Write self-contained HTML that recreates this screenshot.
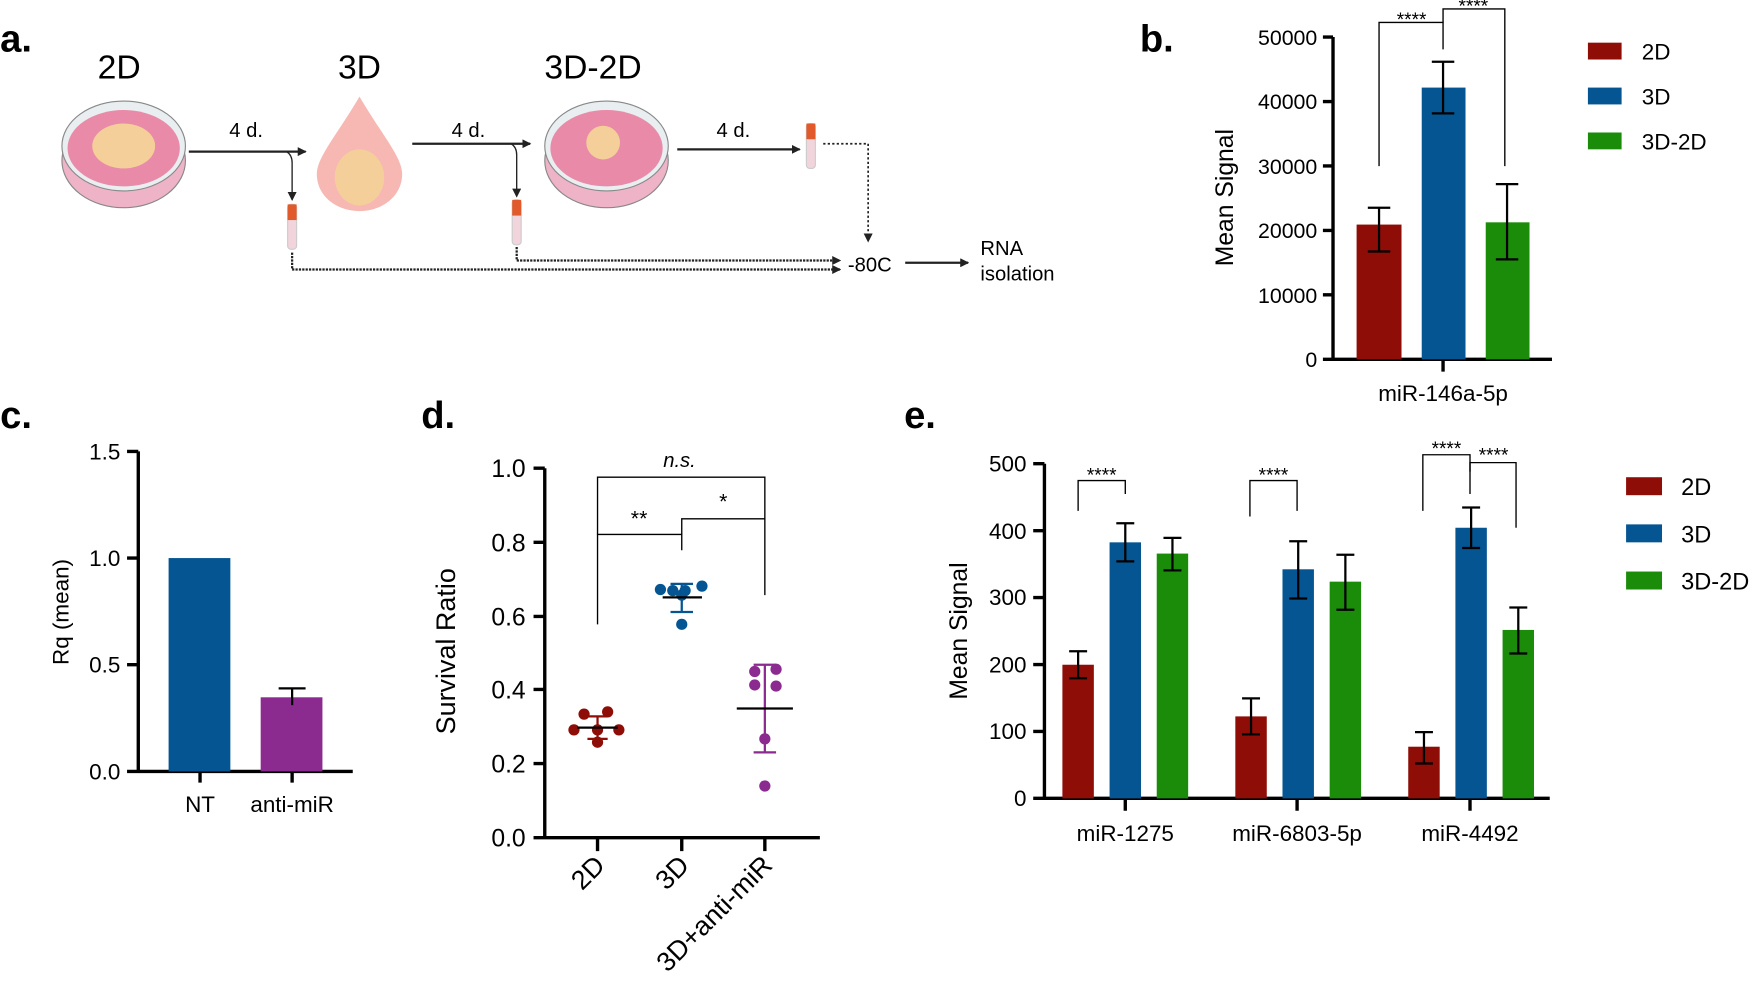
<!DOCTYPE html>
<html><head><meta charset="utf-8"><style>
html,body{margin:0;padding:0;background:#fff;}
svg{display:block;font-family:"Liberation Sans",sans-serif;}
</style></head><body>
<svg width="1761" height="987" viewBox="0 0 1568 879" xmlns="http://www.w3.org/2000/svg">
<defs>
<marker id="ah" markerWidth="8" markerHeight="8" refX="7" refY="4" orient="auto" markerUnits="userSpaceOnUse"><path d="M0,0 L8,4 L0,8 z" fill="#222"/></marker>
</defs>
<!-- Panel a -->
<text x="0" y="46" font-size="34" font-weight="bold">a.</text>
<g font-size="30" text-anchor="middle">
<text x="106" y="70">2D</text><text x="320" y="70">3D</text><text x="528" y="70">3D-2D</text></g>
<g>
<ellipse cx="110" cy="143" rx="55" ry="42" fill="#eeb3c6" stroke="#888"/>
<ellipse cx="110" cy="130" rx="55" ry="40" fill="#e9eef0" stroke="#888"/>
<ellipse cx="110" cy="132" rx="50" ry="34" fill="#e88aa8"/>
<ellipse cx="110" cy="130" rx="28" ry="20" fill="#f5cf9a"/>
<path d="M320,86 C340,120 358,140 358,155 C358,175 340,188 320,188 C300,188 282,175 282,155 C282,140 300,120 320,86 z" fill="#f7b8b3"/>
<ellipse cx="320" cy="158" rx="22" ry="25" fill="#f5cf9a"/>
<ellipse cx="540" cy="143" rx="55" ry="42" fill="#eeb3c6" stroke="#888"/>
<ellipse cx="540" cy="130" rx="55" ry="40" fill="#e9eef0" stroke="#888"/>
<ellipse cx="540" cy="132" rx="50" ry="34" fill="#e88aa8"/>
<ellipse cx="537" cy="127" rx="15" ry="15" fill="#f5cf9a"/>
</g>
<g stroke="#222" stroke-width="2" fill="none">
<line x1="168" y1="135" x2="272" y2="135" marker-end="url(#ah)"/>
<path d="M255,135 Q260,138 260,145 L260,178" stroke-width="1.2" marker-end="url(#ah)"/>
<line x1="367" y1="128" x2="472" y2="128" marker-end="url(#ah)"/>
<path d="M455,128 Q460,131 460,138 L460,175" stroke-width="1.2" marker-end="url(#ah)"/>
<line x1="603" y1="133" x2="712" y2="133" marker-end="url(#ah)"/>
<line x1="806" y1="234" x2="862" y2="234" marker-end="url(#ah)"/>
<path d="M733,128 L773,128 L773,215" stroke-dasharray="2,2" stroke-width="1.5" marker-end="url(#ah)"/>
<path d="M260,225 L260,240 L748,240" stroke-dasharray="2,1" stroke-width="2" marker-end="url(#ah)"/>
<path d="M460,220 L460,232 L748,232" stroke-dasharray="2,1" stroke-width="2" marker-end="url(#ah)"/>
</g>
<g>
<rect x="256" y="182" width="8" height="40" rx="3" fill="#f2d4dc" stroke="#ccc"/><rect x="256" y="182" width="8" height="14" fill="#e05a2b"/>
<rect x="456" y="178" width="8" height="40" rx="3" fill="#f2d4dc" stroke="#ccc"/><rect x="456" y="178" width="8" height="14" fill="#e05a2b"/>
<rect x="718" y="110" width="8" height="40" rx="3" fill="#f2d4dc" stroke="#ccc"/><rect x="718" y="110" width="8" height="14" fill="#e05a2b"/>
</g>
<g font-size="18"><text x="204" y="122">4 d.</text><text x="402" y="122">4 d.</text><text x="638" y="122">4 d.</text>
<text x="755" y="242">-80C</text><text x="873" y="227">RNA</text><text x="873" y="250">isolation</text></g>

<!-- Panel b -->
<text x="1015" y="46" font-size="34" font-weight="bold">b.</text>
<g stroke="#000" stroke-width="3" fill="none"><path d="M1187,33 L1187,320 M1178,320 L1382,320 M1285,320 L1285,331"/>
<path d="M1178,33 H1187 M1178,90.4 H1187 M1178,147.8 H1187 M1178,205.2 H1187 M1178,262.6 H1187"/></g>
<g font-size="19" text-anchor="end"><text x="1173" y="40">50000</text><text x="1173" y="97">40000</text><text x="1173" y="155">30000</text><text x="1173" y="212">20000</text><text x="1173" y="270">10000</text><text x="1173" y="327">0</text></g>
<text transform="translate(1098,176) rotate(-90)" font-size="22" text-anchor="middle">Mean Signal</text>
<text x="1285" y="357" font-size="20" text-anchor="middle">miR-146a-5p</text>
<rect x="1208" y="200" width="40" height="120" fill="#8f0d07"/>
<rect x="1266" y="78" width="39" height="242" fill="#045592"/>
<rect x="1323" y="198" width="39" height="122" fill="#1b8c0a"/>
<g stroke="#000" stroke-width="2" fill="none">
<path d="M1228,185 V224 M1218,185 H1238 M1218,224 H1238"/>
<path d="M1285,55 V101 M1275,55 H1295 M1275,101 H1295"/>
<path d="M1342,164 V231 M1332,164 H1352 M1332,231 H1352"/>
</g>
<g stroke="#000" stroke-width="1.2" fill="none"><path d="M1228,148 V20 H1285 V44"/><path d="M1285,20 V8 H1340 V148"/></g>
<g font-size="17" text-anchor="middle"><text x="1257" y="23">****</text><text x="1312" y="11">****</text></g>
<rect x="1414" y="38" width="30" height="15" fill="#8f0d07"/><rect x="1414" y="78" width="30" height="15" fill="#045592"/><rect x="1414" y="118" width="30" height="15" fill="#1b8c0a"/>
<g font-size="20"><text x="1462" y="53">2D</text><text x="1462" y="93">3D</text><text x="1462" y="133">3D-2D</text></g>

<!-- Panel c -->
<text x="0" y="381" font-size="34" font-weight="bold">c.</text>
<g stroke="#000" stroke-width="3" fill="none"><path d="M123,402 V687 M113,687 H314 M178,687 V697 M260,687 V697 M113,402 H123 M113,497 H123 M113,592 H123"/></g>
<g font-size="20" text-anchor="end"><text x="107" y="409">1.5</text><text x="107" y="504">1.0</text><text x="107" y="599">0.5</text><text x="107" y="694">0.0</text></g>
<text transform="translate(61,545) rotate(-90)" font-size="20" text-anchor="middle">Rq (mean)</text>
<rect x="150" y="497" width="55" height="190" fill="#045592"/>
<rect x="232" y="621" width="55" height="66" fill="#8b2a8f"/>
<path d="M260,613 V628 M248,613 H272" stroke="#000" stroke-width="2"/>
<g font-size="20" text-anchor="middle"><text x="178" y="723">NT</text><text x="260" y="723">anti-miR</text></g>

<!-- Panel d -->
<text x="375" y="381" font-size="34" font-weight="bold">d.</text>
<g stroke="#000" stroke-width="3" fill="none"><path d="M485,417 V746 M475,746 H730 M532,746 V758 M607,746 V758 M681,746 V758 M475,417 H485 M475,483 H485 M475,549 H485 M475,614 H485 M475,680 H485"/></g>
<g font-size="22" text-anchor="end"><text x="468" y="425">1.0</text><text x="468" y="491">0.8</text><text x="468" y="557">0.6</text><text x="468" y="622">0.4</text><text x="468" y="688">0.2</text><text x="468" y="754">0.0</text></g>
<text transform="translate(405,580) rotate(-90)" font-size="24" text-anchor="middle">Survival Ratio</text>
<g stroke="#000" stroke-width="1.2" fill="none"><path d="M532,556 V476 H607 V490"/><path d="M607,476 V462 H681 V530"/><path d="M532,476 V425 H681 V462"/></g>
<g font-size="19" text-anchor="middle"><text x="569" y="468">**</text><text x="644" y="453">*</text><text x="605" y="416" font-style="italic" font-size="18">n.s.</text></g>
<g fill="#8f0d07"><circle cx="520" cy="636" r="5"/><circle cx="541" cy="634" r="5"/><circle cx="511" cy="650" r="5"/><circle cx="532" cy="650" r="5"/><circle cx="551" cy="650" r="5"/><circle cx="532" cy="661" r="5"/></g>
<path d="M532,638 V658 M523,638 H541 M523,658 H541" stroke="#8f0d07" stroke-width="2"/>
<path d="M514,648 H550" stroke="#000" stroke-width="2"/>
<g fill="#045592"><circle cx="588" cy="525" r="5"/><circle cx="599" cy="526" r="5"/><circle cx="610" cy="526" r="5"/><circle cx="625" cy="522" r="5"/><circle cx="607" cy="530" r="5"/><circle cx="607" cy="556" r="5"/></g>
<path d="M607,520 V545 M597,520 H617 M597,545 H617" stroke="#045592" stroke-width="2"/>
<path d="M590,532 H625" stroke="#000" stroke-width="2"/>
<g fill="#8b2a8f"><circle cx="672" cy="598" r="5"/><circle cx="691" cy="596" r="5"/><circle cx="672" cy="610" r="5"/><circle cx="691" cy="611" r="5"/><circle cx="681" cy="658" r="5"/><circle cx="681" cy="700" r="5"/></g>
<path d="M681,592 V670 M671,592 H691 M671,670 H691" stroke="#8b2a8f" stroke-width="2"/>
<path d="M656,631 H706" stroke="#000" stroke-width="2"/>
<g font-size="24" text-anchor="end">
<text transform="translate(540,772) rotate(-45)">2D</text>
<text transform="translate(615,772) rotate(-45)">3D</text>
<text transform="translate(689,772) rotate(-45)">3D+anti-miR</text></g>

<!-- Panel e -->
<text x="805" y="381" font-size="34" font-weight="bold">e.</text>
<g stroke="#000" stroke-width="3" fill="none"><path d="M930,413 V711 M920,711 H1380 M1002,711 V722 M1155,711 V722 M1309,711 V722 M920,413 H930 M920,472.6 H930 M920,532.2 H930 M920,591.8 H930 M920,651.4 H930"/></g>
<g font-size="20" text-anchor="end"><text x="914" y="420">500</text><text x="914" y="480">400</text><text x="914" y="539">300</text><text x="914" y="599">200</text><text x="914" y="658">100</text><text x="914" y="718">0</text></g>
<text transform="translate(861,562) rotate(-90)" font-size="22" text-anchor="middle">Mean Signal</text>
<g fill="#8f0d07"><rect x="946" y="592" width="28" height="119"/><rect x="1100" y="638" width="28" height="73"/><rect x="1254" y="665" width="28" height="46"/></g>
<g fill="#045592"><rect x="988" y="483" width="28" height="228"/><rect x="1142" y="507" width="28" height="204"/><rect x="1296" y="470" width="28" height="241"/></g>
<g fill="#1b8c0a"><rect x="1030" y="493" width="28" height="218"/><rect x="1184" y="518" width="28" height="193"/><rect x="1338" y="561" width="28" height="150"/></g>
<g stroke="#000" stroke-width="2" fill="none">
<path d="M960,580 V604 M952,580 H968 M952,604 H968"/>
<path d="M1002,466 V500 M994,466 H1010 M994,500 H1010"/>
<path d="M1044,479 V508 M1036,479 H1052 M1036,508 H1052"/>
<path d="M1114,622 V654 M1106,622 H1122 M1106,654 H1122"/>
<path d="M1156,482 V533 M1148,482 H1164 M1148,533 H1164"/>
<path d="M1198,494 V543 M1190,494 H1206 M1190,543 H1206"/>
<path d="M1268,652 V680 M1260,652 H1276 M1260,680 H1276"/>
<path d="M1310,452 V488 M1302,452 H1318 M1302,488 H1318"/>
<path d="M1352,541 V582 M1344,541 H1360 M1344,582 H1360"/>
</g>
<g stroke="#000" stroke-width="1.2" fill="none">
<path d="M960,455 V428 H1002 V440"/><path d="M1113,460 V428 H1155 V455"/>
<path d="M1267,455 V405 H1309 V440"/><path d="M1309,420 V412 H1350 V470"/></g>
<g font-size="17" text-anchor="middle"><text x="981" y="429">****</text><text x="1134" y="429">****</text><text x="1288" y="405">****</text><text x="1330" y="411">****</text></g>
<g font-size="20" text-anchor="middle"><text x="1002" y="749">miR-1275</text><text x="1155" y="749">miR-6803-5p</text><text x="1309" y="749">miR-4492</text></g>
<rect x="1448" y="425" width="32" height="16" fill="#8f0d07"/><rect x="1448" y="467" width="32" height="16" fill="#045592"/><rect x="1448" y="509" width="32" height="16" fill="#1b8c0a"/>
<g font-size="21"><text x="1497" y="441">2D</text><text x="1497" y="483">3D</text><text x="1497" y="525">3D-2D</text></g>
</svg>
</body></html>
